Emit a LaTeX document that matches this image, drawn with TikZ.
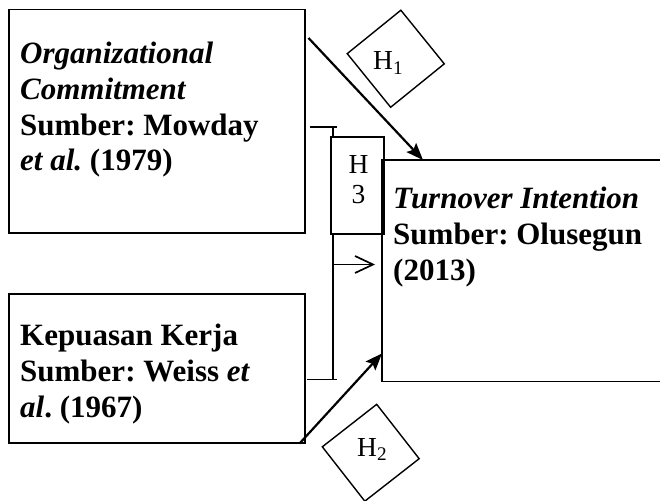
\documentclass[tikz,border=0pt]{standalone}
\usepackage{fontspec}
\setmainfont{Liberation Serif}
\usetikzlibrary{arrows.meta,calc}
\newcommand\mylines[2][l]{\begin{tabular}[t]{@{}#1@{}}#2\end{tabular}}
\frenchspacing
\begin{document}
\frenchspacing
\begin{tikzpicture}[x=1pt,y=-1pt,
  box/.style={draw, line width=1.5pt, rectangle, inner sep=0pt, anchor=north west},
  area/.style={rectangle, inner sep=0pt, anchor=north west},
  txt/.style={inner sep=0pt, anchor=base west, font=\fontsize{31}{36}\selectfont\bfseries},
  hlab/.style={inner sep=0pt, font=\fontsize{27.5}{30}\selectfont},
  diam/.style={draw, line width=1.4pt, rectangle, minimum size=69pt, inner sep=0pt},
  mainarrow/.style={line width=2.2pt, -{Stealth[length=17pt,width=13pt,inset=3pt]}},
  brk/.style={line width=1.5pt},
  openarrow/.style={line width=1.7pt, -{Straight Barb[length=18pt,width=17pt]}},
]
\useasboundingbox (0,0) rectangle (660,500);

% boxes
\node[box, minimum width=296pt, minimum height=223pt] (oc) at (8,9) {};
\node[box, minimum width=296pt, minimum height=149pt] (kk) at (8,293) {};
\node[area, minimum width=278pt, minimum height=221pt] (ti) at (382,160) {};
\draw[brk] (ti.north east) -- (ti.north west) -- (ti.south west) -- (ti.south east);
\node[box, minimum width=53pt, minimum height=97pt] (h3) at (330,136) {};

% texts
\node[txt, font=\fontsize{31}{35.5}\selectfont\bfseries] (toc) at (20,64)
  {\mylines{\textit{Organizational}\\ \textit{Commitment}\\ Sumber: Mowday\\ \textit{et al.} (1979)}};
\node[txt] (tkk) at (20,345)
  {\mylines{Kepuasan Kerja\\ Sumber: Weiss \textit{et}\\ \textit{al}. (1967)}};
\node[txt] (tti) at (393,208)
  {\mylines{\textit{Turnover Intention}\\ Sumber: Olusegun\\ (2013)}};
\node[hlab, anchor=base] (th3) at (358.5,173) {\mylines[c]{H\\3}};

% diamonds
\node[diam, rotate=39] (d1) at (395.75,58.75) {};
\node[hlab, anchor=base west] (t1) at (373,70) {H\textsubscript{1}};
\node[diam, rotate=38] (d2) at (370.75,452.75) {};
\node[hlab, anchor=base west] (t2) at (357,456) {H\textsubscript{2}};

% main arrows
\draw[mainarrow] ($(oc.north east)+(3,29)$) -- ($(ti.north west)+(41,0)$);
\draw[mainarrow] ($(kk.south east)+(-6,0)$) -- ($(ti.south west)+(0,-28)$);

% moderation bracket
\coordinate (bt) at ($(h3.north west)+(3,-9)$);
\coordinate (bb) at ($(h3.south west)+(3,145)$);
\draw[brk] ($(bt)+(-23,0)$) -- ($(bt)+(4,0)$);
\draw[brk] (bt) -- ($(h3.north west)+(3,0)$);
\draw[brk] ($(h3.south west)+(3,0)$) -- (bb);
\draw[brk] ($(bb)+(-26,0)$) -- ($(bb)+(4,0)$);
\coordinate (am) at ($(h3.south west)+(3,30)$);
\draw[openarrow] (am) -- ($(ti.west |- am)+(-7,0)$);
\end{tikzpicture}
\end{document}
